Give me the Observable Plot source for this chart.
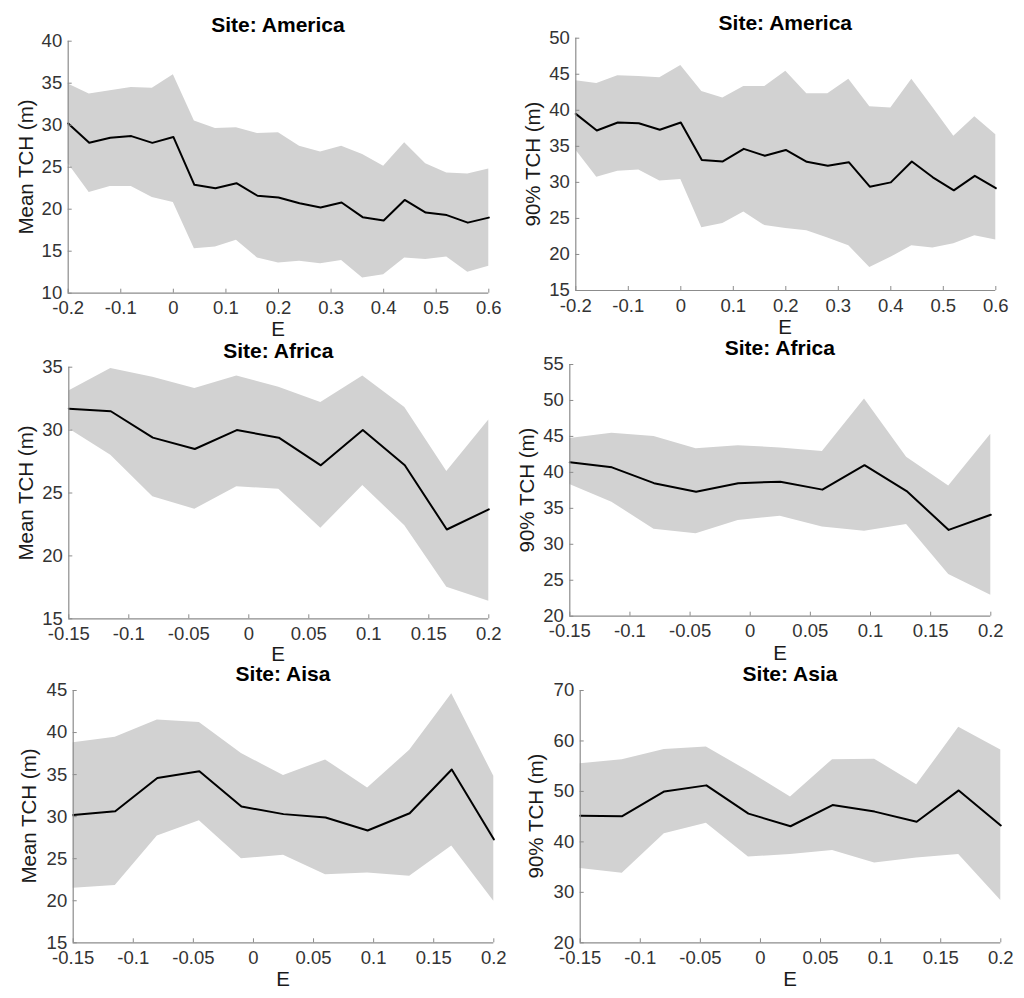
<!DOCTYPE html>
<html><head><meta charset="utf-8">
<script src="https://cdn.jsdelivr.net/npm/d3@7"></script>
<script src="https://cdn.jsdelivr.net/npm/@observablehq/plot@0.6"></script>
<style>
body{margin:0;background:#fff;}
#wrap{position:relative;width:1024px;height:998px;overflow:hidden;font-family:"Liberation Sans",Arial,Helvetica,sans-serif;background:#fff;}
.panel{position:absolute;}
.lbl{position:absolute;transform:translate(-50%,-50%);white-space:nowrap;color:#1a1a1a;line-height:1;}
.title{font-weight:bold;font-size:21px;color:#000;}
.axl{font-size:20.5px;}
.ylab{transform:translate(-50%,-50%) rotate(-90deg);}
</style></head><body><div id="wrap"></div>
<script>
// ---- data ----
const E_america = [-0.2,-0.16,-0.12,-0.08,-0.04,0,0.04,0.08,0.12,0.16,0.2,0.24,0.28,0.32,0.36,0.4,0.44,0.48,0.52,0.56,0.6];
const E_short = [-0.15,-0.115,-0.08,-0.045,-0.01,0.025,0.06,0.095,0.13,0.165,0.2];

const americaMean = [30.2,27.9,28.5,28.7,27.9,28.6,22.9,22.5,23.1,21.6,21.4,20.7,20.2,20.8,19.05,18.65,21.1,19.6,19.3,18.4,19.0];
const americaMeanHi = [34.9,33.7,34.1,34.5,34.4,36.0,30.5,29.6,29.7,29.0,29.1,27.5,26.8,27.5,26.5,25.1,27.9,25.4,24.3,24.2,24.8];
const americaMeanLo = [25.4,22.0,22.7,22.7,21.4,20.8,15.3,15.5,16.3,14.2,13.6,13.8,13.5,13.9,11.8,12.2,14.2,14.0,14.3,12.5,13.2];

const america90 = [39.5,37.2,38.3,38.2,37.3,38.3,33.1,32.9,34.65,33.7,34.5,32.85,32.3,32.8,29.4,30.0,32.9,30.7,28.9,30.9,29.2];
const america90Hi = [44.1,43.7,44.8,44.7,44.5,46.2,42.6,41.7,43.3,43.3,45.4,42.3,42.3,44.3,40.5,40.3,44.3,40.4,36.4,39.1,36.6];
const america90Lo = [34.5,30.7,31.55,31.7,30.2,30.4,23.7,24.3,25.9,24.0,23.6,23.3,22.3,21.2,18.2,19.6,21.2,20.9,21.5,22.6,22.0];

const africaMean = [31.7,31.5,29.4,28.5,30.0,29.4,27.2,30.0,27.2,22.1,23.7];
const africaMeanHi = [33.1,34.9,34.2,33.3,34.3,33.4,32.2,34.3,31.8,26.7,30.8];
const africaMeanLo = [30.1,28.0,24.7,23.7,25.5,25.3,22.2,25.6,22.4,17.5,16.4];

const africa90 = [41.4,40.7,38.5,37.3,38.5,38.7,37.6,41.0,37.4,32.0,34.1];
const africa90Hi = [44.7,45.45,45.0,43.3,43.7,43.4,42.9,50.2,42.1,38.1,45.3];
const africa90Lo = [38.3,35.85,32.1,31.45,33.3,33.9,32.4,31.8,32.75,25.8,22.9];

const asiaMean = [30.2,30.65,34.6,35.4,31.2,30.3,29.9,28.35,30.4,35.6,27.3];
const asiaMeanHi = [38.8,39.45,41.5,41.2,37.5,34.9,36.75,33.4,37.9,44.6,34.8];
const asiaMeanLo = [21.5,21.8,27.7,29.5,25.0,25.4,23.1,23.3,22.9,26.5,19.95];

const asia90 = [45.2,45.1,50.0,51.2,45.6,43.1,47.3,46.0,44.0,50.2,43.25];
const asia90Hi = [55.5,56.3,58.3,58.8,54.0,48.9,56.3,56.4,51.3,62.7,58.2];
const asia90Lo = [34.7,33.8,41.6,43.7,37.0,37.5,38.3,35.8,36.8,37.5,28.4];

const ticksXAmerica = [-0.2,-0.1,0,0.1,0.2,0.3,0.4,0.5,0.6];
const ticksXShort = [-0.15,-0.1,-0.05,0,0.05,0.1,0.15,0.2];

const titles = ["Site: America","Site: America","Site: Africa","Site: Africa","Site: Aisa","Site: Asia"];
const yLabels = ["Mean TCH (m)","90% TCH (m)","Mean TCH (m)","90% TCH (m)","Mean TCH (m)","90% TCH (m)"];
const xLabel = "E";

// ---- layout ----
const panels = [
  {x:E_america, m:americaMean, lo:americaMeanLo, hi:americaMeanHi, xd:[-0.2,0.6], xt:ticksXAmerica, yd:[10,40], yt:[10,15,20,25,30,35,40],
   left:0, top:0, h:330, mt:40.7, mb:37.3, ml:67.7, mr:23.7, title:[278,24], ylab:[26,166.7], elab:[278,328.5]},
  {x:E_america, m:america90, lo:america90Lo, hi:america90Hi, xd:[-0.2,0.6], xt:ticksXAmerica, yd:[15,50], yt:[15,20,25,30,35,40,45,50],
   left:512, top:0, h:330, mt:37.7, mb:40, ml:63.3, mr:28.7, title:[785.3,21.7], ylab:[532.7,163.9], elab:[785,326.5]},
  {x:E_short, m:africaMean, lo:africaMeanLo, hi:africaMeanHi, xd:[-0.15,0.2], xt:ticksXShort, yd:[15,35], yt:[15,20,25,30,35],
   left:0, top:330, h:325, mt:36.7, mb:36.7, ml:68.3, mr:23.7, title:[278.3,350], ylab:[26,492.5], elab:[278,653.5]},
  {x:E_short, m:africa90, lo:africa90Lo, hi:africa90Hi, xd:[-0.15,0.2], xt:ticksXShort, yd:[20,55], yt:[20,25,30,35,40,45,50,55],
   left:512, top:330, h:325, mt:34, mb:39.3, ml:57.3, mr:33.7, title:[779.8,346.7], ylab:[527,489.9], elab:[780,653]},
  {x:E_short, m:asiaMean, lo:asiaMeanLo, hi:asiaMeanHi, xd:[-0.15,0.2], xt:ticksXShort, yd:[15,45], yt:[15,20,25,30,35,40,45],
   left:0, top:655, h:343, mt:35, mb:55.7, ml:72.7, mr:18.7, title:[283,673.3], ylab:[29,816], elab:[283,978.5]},
  {x:E_short, m:asia90, lo:asia90Lo, hi:asia90Hi, xd:[-0.15,0.2], xt:ticksXShort, yd:[20,70], yt:[20,30,40,50,60,70],
   left:512, top:655, h:343, mt:35, mb:55.7, ml:67.7, mr:23.7, title:[790,672.7], ylab:[536,816], elab:[790,978.5]}
];

const wrap = document.getElementById("wrap");
const AX = "#8c8c8c", TXT = "#333";
const fmt = d => String(d);

panels.forEach((p, i) => {
  const data = p.x.map((x, k) => ({x, mean: p.m[k], lo: p.lo[k], hi: p.hi[k]}));
  const chart = Plot.plot({
    width: 512, height: p.h,
    marginTop: p.mt, marginBottom: p.mb, marginLeft: p.ml, marginRight: p.mr,
    style: {fontFamily: '"Liberation Sans", Arial, Helvetica, sans-serif', fontSize: "18.5px", color: TXT, background: "transparent", overflow: "visible"},
    x: {domain: p.xd, label: null},
    y: {domain: p.yd, label: null},
    marks: [
      Plot.areaY(data, {x: "x", y1: "lo", y2: "hi", fill: "#d2d2d2"}),
      Plot.line(data, {x: "x", y: "mean", stroke: "#000", strokeWidth: 2}),
      Plot.ruleY([p.yd[0]], {stroke: AX, strokeWidth: 1.2}),
      Plot.ruleX([p.xd[0]], {stroke: AX, strokeWidth: 1.2}),
      Plot.axisX({ticks: p.xt, tickFormat: fmt, tickSize: -4, tickPadding: 12, stroke: AX, fill: TXT, label: null}),
      Plot.axisY({ticks: p.yt, tickFormat: fmt, tickSize: -4, tickPadding: 10, stroke: AX, fill: TXT, label: null})
    ]
  });
  chart.classList.add("panel");
  chart.style.left = p.left + "px";
  chart.style.top = p.top + "px";
  wrap.appendChild(chart);

  const t = document.createElement("div");
  t.className = "lbl title"; t.textContent = titles[i];
  t.style.left = p.title[0] + "px"; t.style.top = p.title[1] + "px";
  wrap.appendChild(t);

  const yl = document.createElement("div");
  yl.className = "lbl axl ylab"; yl.textContent = yLabels[i];
  yl.style.left = p.ylab[0] + "px"; yl.style.top = p.ylab[1] + "px";
  wrap.appendChild(yl);

  const xl = document.createElement("div");
  xl.className = "lbl axl"; xl.textContent = xLabel;
  xl.style.left = p.elab[0] + "px"; xl.style.top = p.elab[1] + "px";
  wrap.appendChild(xl);
});
</script>
</body></html>
